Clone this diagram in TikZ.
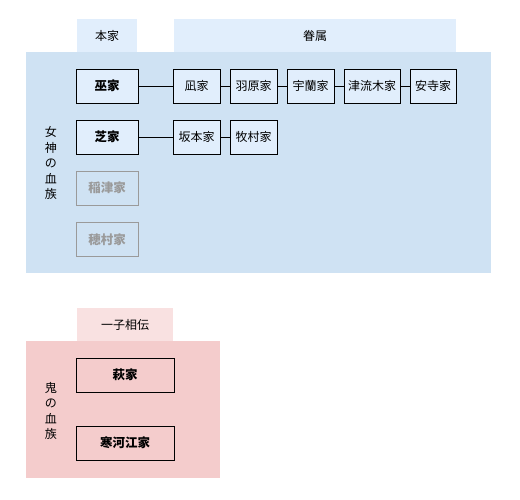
\documentclass[tikz,border=0pt]{standalone}
\usepackage{fontspec}
\setmainfont{Noto Sans CJK JP}
\definecolor{headBlue}{HTML}{E1EEFC}
\definecolor{areaBlue}{HTML}{CFE2F3}
\definecolor{headPink}{HTML}{F9E1E1}
\definecolor{areaPink}{HTML}{F4CCCC}
\definecolor{fadeGray}{HTML}{9A9A9A}
\begin{document}
\begin{tikzpicture}[
        x=1pt, y=-1pt,
        font=\fontsize{12}{13}\selectfont,
        head/.style={minimum height=33pt, inner sep=0pt},
        house/.style={draw, line width=0.8pt, fill=headBlue, minimum width=62pt, minimum height=34pt, inner sep=0pt, font=\fontsize{12.5}{13}\selectfont\bfseries},
        fadeHouse/.style={house, draw=fadeGray, text=fadeGray, fill=none},
        kin/.style={draw, line width=0.8pt, fill=headBlue, minimum width=47pt, minimum height=34pt, inner sep=0pt},
        oniHouse/.style={house, fill=none, minimum width=98pt},
        link/.style={line width=0.8pt},
        side/.style={align=center, font=\fontsize{12}{15.5}\selectfont}
    ]
        \useasboundingbox (0,0) rectangle (520,500);

        % ========================================================
        % FONDOS
        % ========================================================
        \fill[headBlue] (77,19) rectangle (137,52);
        \fill[headBlue] (174,19) rectangle (456,52);
        \fill[areaBlue] (26,52) rectangle (491,273);
        \fill[headPink] (77,308) rectangle (173,341);
        \fill[areaPink] (26,341) rectangle (220,478);

        % ========================================================
        % 女神の血族
        % ========================================================
        \node[head] (honke) at (107,35.5) {本家};
        \node[head] (kenzoku) at (315,35.5) {眷属};
        \node[side] (megami) at (51,163) {女\\神\\の\\血\\族};

        \node[house] (kannagi) at (107,86) {巫家};
        \node[house] (shiba) at (107,137) {芝家};
        \node[fadeHouse] (inazu) at (107,188) {稲津家};
        \node[fadeHouse] (homura) at (107,239.5) {穂村家};

        \node[kin] (nagi) at (196.5,86) {凪家};
        \node[kin] (habara) at (253.5,86) {羽原家};
        \node[kin] (uran) at (310.5,86) {宇蘭家};
        \node[kin, minimum width=56pt] (tsuruki) at (372,86) {津流木家};
        \node[kin, minimum width=46pt] (anji) at (433,86) {安寺家};

        \node[kin] (sakamoto) at (196.5,137) {坂本家};
        \node[kin] (makimura) at (253.5,137) {牧村家};

        \draw[link] (kannagi) -- (nagi) -- (habara) -- (uran) -- (tsuruki) -- (anji);
        \draw[link] (shiba) -- (sakamoto) -- (makimura);

        % ========================================================
        % 鬼の血族
        % ========================================================
        \node[head] (isshi) at (125,324.5) {一子相伝};
        \node[side] (oni) at (51,411) {鬼\\の\\血\\族};

        \node[oniHouse] (hagi) at (125,375) {萩家};
        \node[oniHouse] (sagae) at (125,443) {寒河江家};

\end{tikzpicture}
\end{document}
